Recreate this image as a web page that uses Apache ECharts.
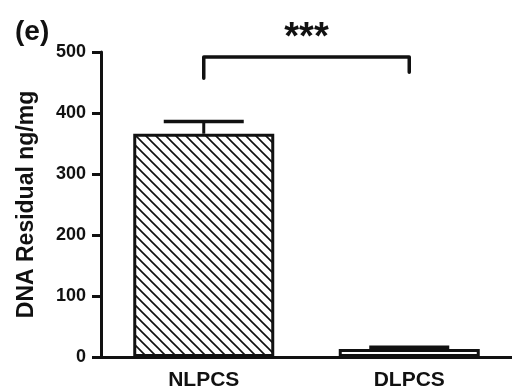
<!DOCTYPE html>
<html><head><meta charset="utf-8">
<script src="https://cdn.jsdelivr.net/npm/echarts@6/dist/echarts.min.js"></script>
<style>html,body{margin:0;padding:0;background:#fff}#c{width:512px;height:391px}</style>
</head><body><div id="c"></div>
<script>
const categories = ['NLPCS', 'DLPCS'];
const means = [366, 13];
const errors = [20, 3];
const yTicks = [0, 100, 200, 300, 400, 500];
const sigLabel = '***';
const sigLevel = [492, 457, 467]; // bracket top, left leg end, right leg end

function hatch() {
  const c = document.createElement('canvas');
  c.width = 10; c.height = 10;
  const g = c.getContext('2d');
  g.fillStyle = '#fff'; g.fillRect(0,0,10,10);
  g.strokeStyle = '#111'; g.lineWidth = 1.6;
  g.beginPath();
  g.moveTo(-2,-2); g.lineTo(12,12);
  g.moveTo(-12,-2); g.lineTo(2,12);
  g.moveTo(8,-2); g.lineTo(22,12);
  g.stroke();
  return c;
}
function dashes() {
  const c = document.createElement('canvas');
  c.width = 10; c.height = 8;
  const g = c.getContext('2d');
  g.fillStyle = '#fff'; g.fillRect(0,0,10,8);
  g.strokeStyle = '#222'; g.lineWidth = 1;
  g.beginPath(); g.moveTo(1,4.5); g.lineTo(6,4.5); g.stroke();
  return c;
}
const font = '"Liberation Sans", Arial, sans-serif';
const chart = echarts.init(document.getElementById('c'));
chart.setOption({
  animation: false,
  grid: { left: 101, top: 52, width: 414, bottom: 34, containLabel: false },
  title: { text: '(e)', left: 10, top: 13, textStyle: { fontFamily: font, fontWeight: 'bold', fontSize: 28, color: '#111' } },
  xAxis: {
    type: 'category', data: categories,
    axisLine: { lineStyle: { color: '#111', width: 3 } },
    axisTick: { alignWithLabel: true, length: 6, lineStyle: { color: '#111', width: 2 } },
    axisLabel: { fontFamily: font, fontWeight: 'bold', fontSize: 21, color: '#111', margin: 13 }
  },
  yAxis: {
    type: 'value', min: yTicks[0], max: yTicks[yTicks.length-1], interval: 100,
    name: 'DNA Residual ng/mg', nameLocation: 'middle', nameGap: 63,
    nameTextStyle: { fontFamily: font, fontWeight: 'bold', fontSize: 23, color: '#111' },
    axisLine: { show: true, lineStyle: { color: '#111', width: 3 } },
    axisTick: { show: true, length: 9, lineStyle: { color: '#111', width: 3 } },
    splitLine: { show: false },
    axisLabel: { fontFamily: font, fontWeight: 'bold', fontSize: 18, color: '#111', margin: 15 }
  },
  series: [
    {
      type: 'bar', barWidth: 141,
      data: means.map((v, i) => ({
        value: v,
        itemStyle: {
          color: { image: i === 0 ? hatch() : dashes(), repeat: 'repeat' },
          borderColor: '#111', borderWidth: 3
        }
      })),
      z: 2
    },
    {
      type: 'custom', z: 3,
      data: means.map((v, i) => [i, v, errors[i]]),
      renderItem: function (params, api) {
        const x = api.value(0), m = api.value(1), e = api.value(2);
        const p0 = api.coord([x, m]);
        const p1 = api.coord([x, m + e]);
        const hw = 40;
        return { type: 'group', children: [
          { type: 'line', shape: { x1: p0[0], y1: p0[1], x2: p1[0], y2: p1[1] }, style: { stroke: '#111', lineWidth: 3 } },
          { type: 'line', shape: { x1: p1[0]-hw, y1: p1[1], x2: p1[0]+hw, y2: p1[1] }, style: { stroke: '#111', lineWidth: 3.5 } }
        ]};
      }
    },
    {
      type: 'custom', z: 4, clip: false,
      data: [[0, 1, sigLevel[0], sigLevel[1], sigLevel[2]]],
      renderItem: function (params, api) {
        const a = api.coord([api.value(0), api.value(2)]);
        const b = api.coord([api.value(1), api.value(2)]);
        const la = api.coord([api.value(0), api.value(3)]);
        const lb = api.coord([api.value(1), api.value(4)]);
        return { type: 'group', children: [
          { type: 'polyline', shape: { points: [[la[0], la[1]], [a[0], a[1]], [b[0], b[1]], [lb[0], lb[1]]] },
            style: { stroke: '#111', lineWidth: 3.5, fill: null, lineJoin: 'round', lineCap: 'round' } },
          { type: 'text', x: (a[0]+b[0])/2, y: a[1] - 18,
            style: { text: sigLabel, fontFamily: font, fontWeight: 'bold', fontSize: 38, fill: '#111', align: 'center', verticalAlign: 'middle' } }
        ]};
      }
    }
  ]
});
</script></body></html>
